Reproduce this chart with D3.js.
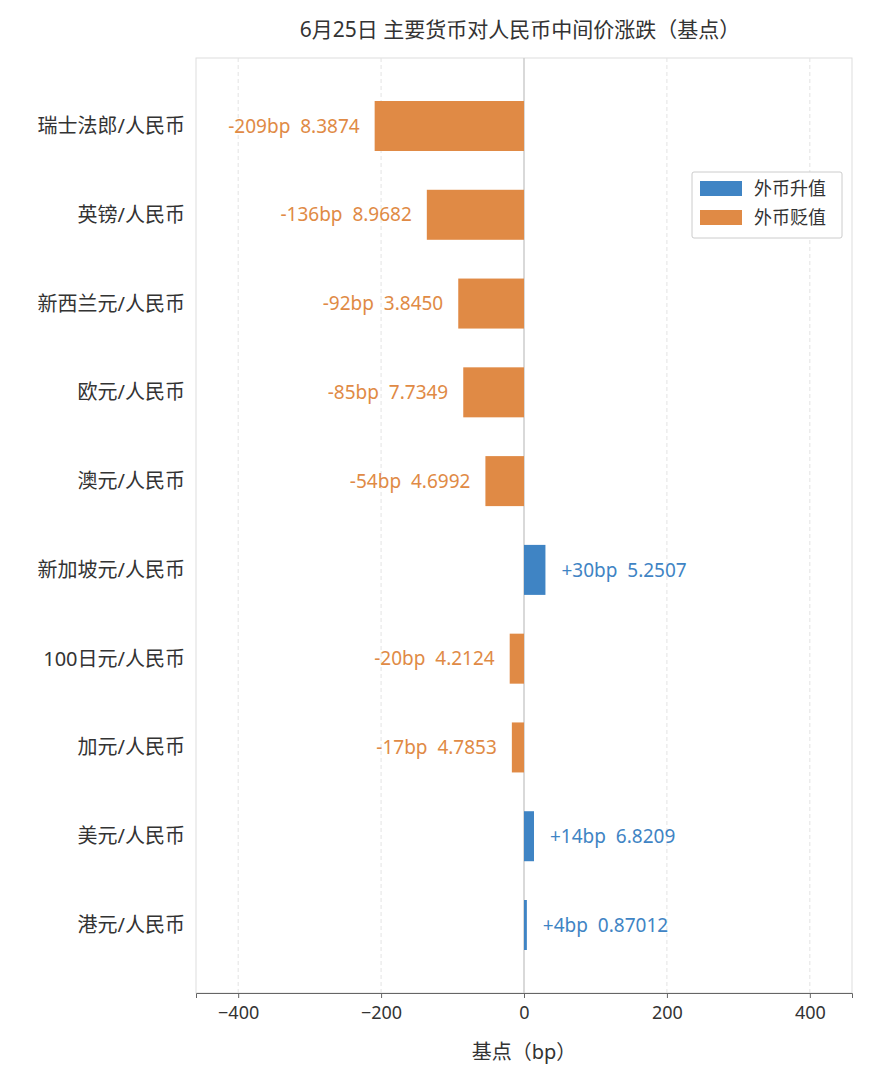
<!DOCTYPE html>
<html><head><meta charset="utf-8">
<script src="https://cdn.jsdelivr.net/npm/d3@7"></script>
<style>body{margin:0;background:#fff;} svg text{font-family:"Noto Sans","Noto Sans CJK SC",sans-serif;}</style>
</head><body><svg id="c" width="870" height="1082"></svg>
<script>
const categories=["瑞士法郎/人民币","英镑/人民币","新西兰元/人民币","欧元/人民币","澳元/人民币","新加坡元/人民币","100日元/人民币","加元/人民币","美元/人民币","港元/人民币"];
const changes=[-209,-136,-92,-85,-54,30,-20,-17,14,4];
const rates=["8.3874","8.9682","3.8450","7.7349","4.6992","5.2507","4.2124","4.7853","6.8209","0.87012"];
const xTicks=[-400,-200,0,200,400];
const BLUE="#3f84c4",ORANGE="#e08a45";
const svg=d3.select("#c");
const L=196,R=852,T=58,B=993;
const x=d3.scaleLinear().domain([-459,459]).range([L,R]);
const y=d3.scalePoint().domain(categories).range([126,925]);
const bh=50;
svg.append("rect").attr("x",L).attr("y",T).attr("width",R-L).attr("height",B-T).attr("fill","none").attr("stroke","#ddd");
xTicks.forEach(t=>{svg.append("line").attr("x1",x(t)).attr("x2",x(t)).attr("y1",T).attr("y2",B)
 .attr("stroke",t===0?"#ccc":"#e3e3e3").attr("stroke-width",t===0?1.5:1).attr("stroke-dasharray",t===0?null:"4,3");});
const ax=svg.append("g").attr("transform",`translate(0,${B})`).call(d3.axisBottom(x).tickValues(xTicks).tickSize(5).tickPadding(8));
ax.selectAll("text").attr("font-size",18).attr("fill","#333").attr("font-family",null);
ax.selectAll("line,path").attr("stroke","#666");
svg.append("text").attr("x",x(0)).attr("y",1059).attr("text-anchor","middle").attr("font-size",20).attr("fill","#333").text("基点（bp）");
svg.append("text").attr("x",520).attr("y",37).attr("text-anchor","middle").attr("font-size",21).attr("fill","#333").text("6月25日 主要货币对人民币中间价涨跌（基点）");
categories.forEach((c,i)=>{
 const v=changes[i],col=v>=0?BLUE:ORANGE,cy=y(c);
 svg.append("rect").attr("x",x(Math.min(0,v))).attr("y",cy-bh/2).attr("width",Math.abs(x(v)-x(0))).attr("height",bh).attr("fill",col);
 svg.append("text").attr("x",185).attr("y",cy).attr("dy","0.35em").attr("text-anchor","end").attr("font-size",20).attr("fill","#333").text(c);
 svg.append("text").attr("x",v>=0?x(v)+16:x(v)-15).attr("y",cy).attr("dy","0.35em").attr("text-anchor",v>=0?"start":"end")
  .attr("font-size",19).attr("fill",col).attr("xml:space","preserve").text((v>0?"+":"")+v+"bp  "+rates[i]);
});
const lg=svg.append("g");
lg.append("rect").attr("x",692).attr("y",172).attr("width",150).attr("height",66).attr("fill","#fff").attr("stroke","#ccc").attr("rx",2);
[["外币升值",BLUE],["外币贬值",ORANGE]].forEach((d,i)=>{
 lg.append("rect").attr("x",700).attr("y",181+i*29).attr("width",42).attr("height",15).attr("fill",d[1]);
 lg.append("text").attr("x",754).attr("y",189+i*29).attr("dy","0.35em").attr("font-size",18).attr("fill","#333").text(d[0]);
});
</script></body></html>
